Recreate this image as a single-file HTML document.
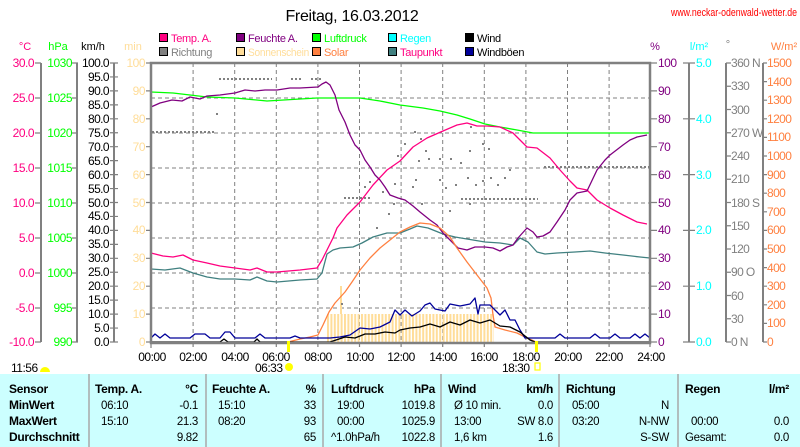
<!DOCTYPE html>
<html><head><meta charset="utf-8"><style>
html,body{margin:0;padding:0;background:#fff;width:800px;height:447px;overflow:hidden}
svg{display:block;font-family:"Liberation Sans",sans-serif}
</style></head><body>
<svg width="800" height="447" viewBox="0 0 800 447" xmlns="http://www.w3.org/2000/svg">
<defs>
<pattern id="sun" x="327" y="0" width="3.4" height="10" patternUnits="userSpaceOnUse"><rect x="0" y="0" width="2" height="10" fill="#ffdd99"/></pattern>
</defs>
<text x="352" y="21" font-size="16" text-anchor="middle" fill="#000" letter-spacing="-0.3">Freitag, 16.03.2012</text>
<text x="797" y="16" font-size="11" text-anchor="end" fill="#ff0000" textLength="126" lengthAdjust="spacingAndGlyphs">www.neckar-odenwald-wetter.de</text>
<g font-size="11" letter-spacing="-0.3">
<rect x="159.5" y="33.5" width="8" height="8" fill="#ff0080" stroke="#000"/><text x="171" y="42" fill="#ff0080">Temp. A.</text>
<rect x="236.5" y="33.5" width="8" height="8" fill="#800080" stroke="#000"/><text x="248" y="42" fill="#800080">Feuchte A.</text>
<rect x="312.5" y="33.5" width="8" height="8" fill="#00ff00" stroke="#000"/><text x="324" y="42" fill="#00ff00">Luftdruck</text>
<rect x="388.5" y="33.5" width="8" height="8" fill="#00ffff" stroke="#000"/><text x="400" y="42" fill="#00ffff">Regen</text>
<rect x="465.5" y="33.5" width="8" height="8" fill="#000" stroke="#000"/><text x="477" y="42" fill="#000">Wind</text>
<rect x="159.5" y="47.5" width="8" height="8" fill="#808080" stroke="#000"/><text x="171" y="56" fill="#808080">Richtung</text>
<rect x="236.5" y="47.5" width="8" height="8" fill="#ffdd99" stroke="#000"/><text x="248" y="56" fill="#ffdd99" textLength="61" lengthAdjust="spacingAndGlyphs">Sonnenschein</text>
<rect x="312.5" y="47.5" width="8" height="8" fill="#ff8040" stroke="#000"/><text x="324" y="56" fill="#ff8040">Solar</text>
<rect x="388.5" y="47.5" width="8" height="8" fill="#408080" stroke="#000"/><text x="400" y="56" fill="#ff0080">Taupunkt</text>
<rect x="465.5" y="47.5" width="8" height="8" fill="#000099" stroke="#000"/><text x="477" y="56" fill="#000">Windböen</text>
</g>
<g font-size="11" text-anchor="middle">
<text x="25" y="50" fill="#ff0080">°C</text>
<text x="58" y="50" fill="#00ff00">hPa</text>
<text x="93" y="50" fill="#000">km/h</text>
<text x="133" y="50" fill="#ffdd99">min</text>
<text x="655" y="50" fill="#800080">%</text>
<text x="699" y="50" fill="#00ffff">l/m²</text>
<text x="728" y="48" fill="#808080">°</text>
<text x="784" y="50" fill="#ff8040">W/m²</text>
</g>
<g stroke="#808080" stroke-width="2" fill="none">
<line x1="41" y1="63" x2="41" y2="342"/>
<line x1="77" y1="63" x2="77" y2="342"/>
<line x1="114" y1="63" x2="114" y2="342"/>
<line x1="689" y1="63" x2="689" y2="342"/>
<line x1="726" y1="63" x2="726" y2="342"/>
<line x1="763" y1="63" x2="763" y2="342"/>
</g>
<g stroke="#808080" stroke-width="1.2">
<path d="M35 63H41M35 98H41M35 133H41M35 168H41M35 203H41M35 238H41M35 273H41M35 308H41M35 342H41"/>
<path d="M72 63H78M72 98H78M72 133H78M72 168H78M72 203H78M72 238H78M72 273H78M72 308H78M72 342H78"/>
<path d="M110 63H118M110 76.95H118M110 90.9H118M110 104.85H118M110 118.8H118M110 132.75H118M110 146.7H118M110 160.65H118M110 174.6H118M110 188.55H118M110 202.5H118M110 216.45H118M110 230.4H118M110 244.35H118M110 258.3H118M110 272.25H118M110 286.2H118M110 300.15H118M110 314.1H118M110 328.05H118M110 342H118"/>
<path d="M146 63H151M146 90.9H151M146 118.8H151M146 146.7H151M146 174.6H151M146 202.5H151M146 230.4H151M146 258.3H151M146 286.2H151M146 314.1H151M146 342H151"/>
<path d="M650 63H657M650 90.9H657M650 118.8H657M650 146.7H657M650 174.6H657M650 202.5H657M650 230.4H657M650 258.3H657M650 286.2H657M650 314.1H657M650 342H657"/>
<path d="M683 63H695M683 118.8H695M683 174.6H695M683 230.4H695M683 286.2H695M683 342H695"/>
<path d="M726 63H731M726 86.25H731M726 109.5H731M726 132.75H731M726 156H731M726 179.25H731M726 202.5H731M726 225.75H731M726 249H731M726 272.25H731M726 295.5H731M726 318.75H731M726 342H731"/>
<path d="M763 63H767M763 81.6H767M763 100.2H767M763 118.8H767M763 137.4H767M763 156H767M763 174.6H767M763 193.2H767M763 211.8H767M763 230.4H767M763 249H767M763 267.6H767M763 286.2H767M763 304.8H767M763 323.4H767M763 342H767"/>
</g>
<g font-size="12" text-anchor="end" fill="#ff0080" letter-spacing="-0.5">
<text x="34" y="67">30.0</text><text x="34" y="102">25.0</text><text x="34" y="137">20.0</text><text x="34" y="172">15.0</text><text x="34" y="207">10.0</text><text x="34" y="242">5.0</text><text x="34" y="277">0.0</text><text x="34" y="312">-5.0</text><text x="34" y="346">-10.0</text>
</g>
<g font-size="12" text-anchor="end" fill="#00ff00" letter-spacing="-0.5">
<text x="72" y="67">1030</text><text x="72" y="102">1025</text><text x="72" y="137">1020</text><text x="72" y="172">1015</text><text x="72" y="207">1010</text><text x="72" y="242">1005</text><text x="72" y="277">1000</text><text x="72" y="312">995</text><text x="72" y="346">990</text>
</g>
<g font-size="12" text-anchor="end" fill="#000" letter-spacing="-0.6">
<text x="109" y="67">100.0</text><text x="109" y="81">95.0</text><text x="109" y="95">90.0</text><text x="109" y="109">85.0</text><text x="109" y="123">80.0</text><text x="109" y="137">75.0</text><text x="109" y="151">70.0</text><text x="109" y="165">65.0</text><text x="109" y="179">60.0</text><text x="109" y="193">55.0</text><text x="109" y="207">50.0</text><text x="109" y="220">45.0</text><text x="109" y="234">40.0</text><text x="109" y="248">35.0</text><text x="109" y="262">30.0</text><text x="109" y="276">25.0</text><text x="109" y="290">20.0</text><text x="109" y="304">15.0</text><text x="109" y="318">10.0</text><text x="109" y="332">5.0</text><text x="109" y="346">0.0</text>
</g>
<g font-size="12" text-anchor="end" fill="#ffdd99" letter-spacing="-0.5">
<text x="145" y="67">100</text><text x="145" y="95">90</text><text x="145" y="123">80</text><text x="145" y="151">70</text><text x="145" y="179">60</text><text x="145" y="207">50</text><text x="145" y="234">40</text><text x="145" y="262">30</text><text x="145" y="290">20</text><text x="145" y="318">10</text><text x="145" y="346">0</text>
</g>
<g font-size="12" fill="#800080" letter-spacing="-0.5">
<text x="658" y="67">100</text><text x="658" y="95">90</text><text x="658" y="123">80</text><text x="658" y="151">70</text><text x="658" y="179">60</text><text x="658" y="207">50</text><text x="658" y="234">40</text><text x="658" y="262">30</text><text x="658" y="290">20</text><text x="658" y="318">10</text><text x="658" y="346">0</text>
</g>
<g font-size="12" fill="#00ffff" letter-spacing="-0.5">
<text x="696" y="67">5.0</text><text x="696" y="123">4.0</text><text x="696" y="179">3.0</text><text x="696" y="234">2.0</text><text x="696" y="290">1.0</text><text x="696" y="346">0.0</text>
</g>
<g font-size="12" fill="#808080" letter-spacing="-0.6">
<text x="731" y="67">360 N</text><text x="731" y="90">330</text><text x="731" y="114">300</text><text x="731" y="137">270 W</text><text x="731" y="160">240</text><text x="731" y="183">210</text><text x="731" y="207">180 S</text><text x="731" y="230">150</text><text x="731" y="253">120</text><text x="731" y="276">90 O</text><text x="731" y="300">60</text><text x="731" y="323">30</text><text x="731" y="346">0 N</text>
</g>
<g font-size="12" fill="#ff8040" letter-spacing="-0.6">
<text x="767" y="67">1500</text><text x="767" y="86">1400</text><text x="767" y="104">1300</text><text x="767" y="123">1200</text><text x="767" y="141">1100</text><text x="767" y="160">1000</text><text x="767" y="179">900</text><text x="767" y="197">800</text><text x="767" y="216">700</text><text x="767" y="234">600</text><text x="767" y="253">500</text><text x="767" y="272">400</text><text x="767" y="290">300</text><text x="767" y="309">200</text><text x="767" y="327">100</text><text x="767" y="346">0</text>
</g>
<g stroke="#808080" stroke-width="1" stroke-dasharray="4,3">
<path d="M193.1 63V342M234.7 63V342M276.3 63V342M317.9 63V342M359.5 63V342M401.1 63V342M442.7 63V342M484.3 63V342M525.9 63V342M567.5 63V342M609.1 63V342"/>
<path d="M151 98H650M151 133H650M151 168H650M151 203H650M151 238H650M151 273H650M151 308H650"/>
</g>
<rect x="327" y="314" width="167" height="28" fill="url(#sun)"/>
<rect x="340" y="286" width="2" height="28" fill="#ffdd99"/>
<g stroke="#808080" stroke-width="2" stroke-dasharray="2,2" fill="none">
<path d="M152 132H215M219 79H272M291 79H302M311 79H322M344 198H370M461 199H538M544 167H650"/>
</g>
<g fill="#808080">
<rect x="216" y="113" width="2" height="2"/><rect x="341" y="303" width="2" height="2"/><rect x="394" y="183" width="2" height="2"/><rect x="376" y="227" width="2" height="2"/><rect x="397" y="155" width="2" height="2"/><rect x="382" y="191" width="2" height="2"/><rect x="369" y="181" width="2" height="2"/><rect x="364" y="186" width="2" height="2"/><rect x="388" y="213" width="2" height="2"/><rect x="414" y="131" width="2" height="2"/><rect x="420" y="138" width="2" height="2"/><rect x="425" y="150" width="2" height="2"/><rect x="418" y="160" width="2" height="2"/><rect x="428" y="158" width="2" height="2"/><rect x="439" y="158" width="2" height="2"/><rect x="450" y="158" width="2" height="2"/><rect x="415" y="179" width="2" height="2"/><rect x="412" y="186" width="2" height="2"/><rect x="421" y="203" width="2" height="2"/><rect x="439" y="179" width="2" height="2"/><rect x="455" y="184" width="2" height="2"/><rect x="460" y="162" width="2" height="2"/><rect x="445" y="187" width="2" height="2"/><rect x="467" y="177" width="2" height="2"/><rect x="475" y="184" width="2" height="2"/><rect x="482" y="180" width="2" height="2"/><rect x="469" y="203" width="2" height="2"/><rect x="490" y="177" width="2" height="2"/><rect x="497" y="184" width="2" height="2"/><rect x="504" y="177" width="2" height="2"/><rect x="509" y="169" width="2" height="2"/><rect x="470" y="126" width="2" height="2"/><rect x="482" y="143" width="2" height="2"/><rect x="469" y="150" width="2" height="2"/><rect x="488" y="148" width="2" height="2"/><rect x="404" y="143" width="2" height="2"/><rect x="393" y="203" width="2" height="2"/><rect x="445" y="235" width="2" height="2"/><rect x="449" y="210" width="2" height="2"/></g>
<g fill="none" stroke-width="1.3" stroke-linejoin="round">
<polyline stroke="#00ff00" points="151,92 173,93 190,95 207,97 235,98 267,101 317,98 360,98 380,101 400,105 423,108 440,111 457,115 470,119 485,124 500,127 517,130 533,133 650,133"/>
<polyline stroke="#408080" points="151,269 165,270 180,268 193,273 207,277 220,279 235,279 250,280 257,277 267,281 277,282 300,280 317,279 322,273 327,254 333,250 340,248 353,247 362,243 373,237 387,233 400,233 410,229 417,226 428,228 443,234 455,237 467,239 485,242 500,243 513,245 520,238 528,242 537,252 545,254 557,253 575,252 590,251 605,253 623,255 640,257 650,258"/>
<polyline stroke="#ff0080" points="151,253 163,256 173,257 183,255 193,260 207,263 220,266 235,268 250,270 257,268 267,272 277,272 300,270 317,268 322,260 327,250 333,238 337,228 347,215 360,202 373,185 387,170 400,161 413,147 427,138 443,131 457,125 467,123 477,126 487,126 500,127 513,133 527,147 537,148 550,158 560,170 570,181 577,188 587,190 597,200 610,208 623,215 637,222 647,224"/>
<polyline stroke="#800080" points="151,107 160,103 172,100 182,101 190,97 200,99 207,96 220,95 235,93 245,90 255,91 265,90 277,90 290,88 300,88 318,87 322,84 326,82 330,85 335,95 339,110 345,122 350,135 355,145 360,150 365,160 370,167 375,175 380,180 385,187 390,195 398,198 405,200 413,206 420,212 430,220 437,225 443,233 450,240 458,248 467,250 475,247 485,247 493,248 500,251 507,247 513,245 518,238 527,228 533,232 537,237 543,236 550,232 557,222 565,210 570,200 577,193 587,191 597,170 605,160 610,155 623,145 630,140 637,137 647,135"/>
<polyline stroke="#ff8040" points="288,342 300,339 310,337 318,335 323,325 329,312 335,303 345,292 352,282 360,270 370,258 380,248 390,240 400,232 410,227 420,223 430,224 440,228 450,237 457,248 467,262 477,275 487,288 491,298 493,315 495,327 505,330 517,333 527,338 536,342"/>
<polyline stroke="#000099" points="151,338 155,334 160,338 165,334 170,338 190,338 195,334 205,334 210,338 220,338 225,332 230,332 235,338 255,338 260,334 265,338 290,338 295,336 300,338 330,338 340,337 350,335 360,328 370,329 380,327 390,322 395,310 400,315 405,310 412,316 420,311 425,305 430,303 435,309 445,311 450,304 460,306 470,304 475,298 478,314 480,305 490,305 495,310 500,315 505,310 510,320 515,320 520,330 525,338 555,338 560,334 565,338 590,338 595,334 600,338 610,338 615,334 620,338 630,338 635,334 640,338 645,334 650,338"/>
<polyline stroke="#000" points="151,342 220,342 224,339 228,342 254,342 257,339 260,342 330,342 345,337 355,338 365,334 375,334 385,332 395,333 400,330 410,328 420,327 430,324 440,327 450,322 460,325 470,320 480,323 490,320 500,326 510,327 520,332 530,340 535,342 650,342"/>
</g>
<rect x="151" y="63" width="499" height="280" fill="none" stroke="#808080" stroke-width="2.5"/>
<path d="M151 343V348M193.1 343V347M234.7 343V347M276.3 343V347M317.9 343V347M359.5 343V347M401.1 343V347M442.7 343V347M484.3 343V347M525.9 343V347M567.5 343V347M609.1 343V347M650 343V347" stroke="#808080" stroke-width="1.2"/>
<rect x="287" y="341" width="3" height="11" fill="#ffff00"/>
<rect x="535" y="341" width="3" height="11" fill="#ffff00"/>
<g font-size="12" text-anchor="middle" fill="#000" letter-spacing="-0.5">
<text x="152" y="361">00:00</text><text x="193" y="361">02:00</text><text x="235" y="361">04:00</text><text x="276" y="361">06:00</text><text x="318" y="361">08:00</text><text x="360" y="361">10:00</text><text x="401" y="361">12:00</text><text x="443" y="361">14:00</text><text x="484" y="361">16:00</text><text x="526" y="361">18:00</text><text x="568" y="361">20:00</text><text x="609" y="361">22:00</text><text x="651" y="361">24:00</text>
</g>
<g font-size="12" fill="#000" letter-spacing="-0.5">
<text x="11" y="372">11:56</text><text x="255" y="372">06:33</text><text x="502" y="372">18:30</text>
</g>
<path d="M40 372a5 5 0 0 1 10 0z" fill="#ffff00"/>
<circle cx="289" cy="367" r="4" fill="#ffff00"/>
<rect x="535" y="363" width="5" height="7" fill="none" stroke="#ffff00" stroke-width="1.2"/>
<rect x="0" y="374" width="800" height="73" fill="#ccffff"/>
<g stroke="#a8a8a8" stroke-width="1.5">
<path d="M89 374V447M206 374V447M323 374V447M441 374V447M559 374V447M678 374V447"/>
</g>
<g font-size="12" font-weight="bold" fill="#000" letter-spacing="-0.3">
<text x="9" y="393">Sensor</text><text x="9" y="409">MinWert</text><text x="9" y="425">MaxWert</text><text x="9" y="441">Durchschnitt</text>
<text x="95" y="393">Temp. A.</text><text x="198" y="393" text-anchor="end">°C</text>
<text x="212" y="393">Feuchte A.</text><text x="316" y="393" text-anchor="end">%</text>
<text x="331" y="393">Luftdruck</text><text x="435" y="393" text-anchor="end">hPa</text>
<text x="448" y="393">Wind</text><text x="553" y="393" text-anchor="end">km/h</text>
<text x="566" y="393">Richtung</text>
<text x="685" y="393">Regen</text><text x="789" y="393" text-anchor="end">l/m²</text>
</g>
<g font-size="11.5" fill="#000" letter-spacing="-0.3">
<text x="101" y="409">06:10</text><text x="198" y="409" text-anchor="end">-0.1</text>
<text x="101" y="425">15:10</text><text x="198" y="425" text-anchor="end">21.3</text>
<text x="198" y="441" text-anchor="end">9.82</text>
<text x="218" y="409">15:10</text><text x="316" y="409" text-anchor="end">33</text>
<text x="218" y="425">08:20</text><text x="316" y="425" text-anchor="end">93</text>
<text x="316" y="441" text-anchor="end">65</text>
<text x="337" y="409">19:00</text><text x="435" y="409" text-anchor="end">1019.8</text>
<text x="337" y="425">00:00</text><text x="435" y="425" text-anchor="end">1025.9</text>
<text x="331" y="441">^1.0hPa/h</text><text x="435" y="441" text-anchor="end">1022.8</text>
<text x="454" y="409">Ø 10 min.</text><text x="553" y="409" text-anchor="end">0.0</text>
<text x="454" y="425">13:00</text><text x="553" y="425" text-anchor="end">SW 8.0</text>
<text x="454" y="441">1,6 km</text><text x="553" y="441" text-anchor="end">1.6</text>
<text x="572" y="409">05:00</text><text x="669" y="409" text-anchor="end">N</text>
<text x="572" y="425">03:20</text><text x="669" y="425" text-anchor="end">N-NW</text>
<text x="669" y="441" text-anchor="end">S-SW</text>
<text x="691" y="425">00:00</text><text x="789" y="425" text-anchor="end">0.0</text>
<text x="685" y="441">Gesamt:</text><text x="789" y="441" text-anchor="end">0.0</text>
</g>
</svg>
</body></html>
